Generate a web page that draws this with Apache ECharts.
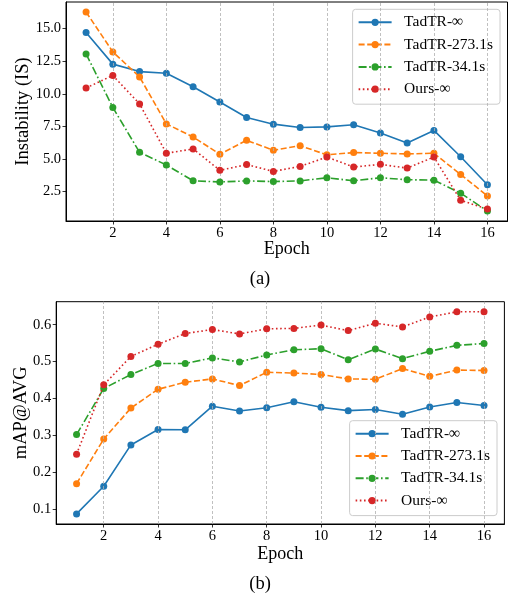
<!DOCTYPE html>
<html><head><meta charset="utf-8">
<script src="https://cdn.jsdelivr.net/npm/echarts@6/dist/echarts.min.js"></script>
<style>html,body{margin:0;padding:0;background:#fff}#c{width:508px;height:596px}</style>
</head><body><div id="c"></div>
<script>
// ---- data ----
const epochs = [1,2,3,4,5,6,7,8,9,10,11,12,13,14,15,16];
const seriesNames = ['TadTR-∞','TadTR-273.1s','TadTR-34.1s','Ours-∞'];

// (a) Instability (IS)
const isTadInf  = [14.69,12.27,11.70,11.57,10.54,9.37,8.18,7.67,7.41,7.46,7.62,7.00,6.23,7.19,5.17,3.02];
const isTad273  = [16.27,13.21,11.29,7.69,6.69,5.36,6.43,5.67,6.02,5.32,5.49,5.44,5.39,5.44,3.81,2.17];
const isTad34   = [13.05,8.95,5.51,4.54,3.33,3.24,3.32,3.27,3.32,3.56,3.33,3.56,3.41,3.38,2.38,1.01];
const isOursInf = [10.45,11.40,9.22,5.44,5.77,4.13,4.57,4.05,4.43,5.15,4.38,4.59,4.30,5.15,1.83,1.16];

// (b) mAP@AVG
const mapTadInf  = [0.087,0.162,0.274,0.316,0.315,0.379,0.366,0.375,0.391,0.376,0.367,0.370,0.357,0.377,0.389,0.381];
const mapTad273  = [0.169,0.290,0.374,0.425,0.444,0.453,0.435,0.471,0.469,0.465,0.453,0.452,0.481,0.460,0.477,0.476];
const mapTad34   = [0.302,0.427,0.465,0.495,0.495,0.510,0.499,0.518,0.532,0.535,0.505,0.534,0.508,0.528,0.544,0.549];
const mapOursInf = [0.249,0.437,0.514,0.547,0.576,0.587,0.575,0.589,0.590,0.599,0.584,0.604,0.594,0.621,0.635,0.635];

// tick labels
const xTicks = [2,4,6,8,10,12,14,16];
const isTicks = [2.5,5.0,7.5,10.0,12.5,15.0];
const mapTicks = [0.1,0.2,0.3,0.4,0.5,0.6];

// ---- style ----
const FONT = "'Liberation Serif', 'Times New Roman', serif";
const COLORS = ['#1f77b4','#ff7f0e','#2ca02c','#d62728'];
const DASHES = ['solid',[6,2.6],[8,2.6,1.6,2.6],[1.6,2.6]];
const TXT = '#000';

function extentPad(arrs){
  let lo = Infinity, hi = -Infinity;
  arrs.forEach(a => a.forEach(v => { lo = Math.min(lo, v); hi = Math.max(hi, v); }));
  const m = (hi - lo) * 0.05;
  return [lo - m, hi + m];
}
const xExt = extentPad([epochs]);
const isExt = extentPad([isTadInf,isTad273,isTad34,isOursInf]);
const mapExt = extentPad([mapTadInf,mapTad273,mapTad34,mapOursInf]);

const grids = [
  {left:66, right:0.5, top:2, height:219, outerBoundsMode:'none', show:true, borderColor:'#000', borderWidth:1, backgroundColor:'transparent'},
  {left:56.2, right:3.6, top:301.7, height:222.3, outerBoundsMode:'none', show:true, borderColor:'#000', borderWidth:1, backgroundColor:'transparent'}
];

function makeX(i){
  return {
    type:'value', gridIndex:i, min:xExt[0], max:xExt[1],
    name:'Epoch', nameLocation:'middle', nameGap: i===0 ? 19 : 21, nameMoveOverlap:false,
    nameTextStyle:{fontFamily:FONT, fontSize:18, color:TXT},
    axisLine:{show:true, onZero:false, lineStyle:{color:'#000', width:1}},
    axisTick:{show:true, length:3.5, inside:false, customValues:xTicks, lineStyle:{color:'#000', width:0.8}},
    axisLabel:{show:true, customValues:xTicks, fontFamily:FONT, fontSize:14.5, color:TXT, margin:5},
    splitLine:{show:false}
  };
}
function makeY(i){
  const ticks = i===0 ? isTicks : mapTicks;
  const ext = i===0 ? isExt : mapExt;
  return {
    type:'value', gridIndex:i, min:ext[0], max:ext[1],
    name: i===0 ? 'Instability (IS)' : 'mAP@AVG', nameLocation:'middle', nameRotate:90,
    nameGap: i===0 ? 33 : 26, nameMoveOverlap:false,
    nameTextStyle:{fontFamily:FONT, fontSize:18.5, color:TXT},
    axisLine:{show:true, onZero:false, lineStyle:{color:'#000', width:1}},
    axisTick:{show:true, length:3.5, inside:false, customValues:ticks, lineStyle:{color:'#000', width:0.8}},
    axisLabel:{show:true, customValues:ticks, fontFamily:FONT, fontSize:14.5, color:TXT, margin:5,
      formatter: v => v.toFixed(1)},
    splitLine:{show:false}
  };
}

const series = [];
[[isTadInf,isTad273,isTad34,isOursInf],[mapTadInf,mapTad273,mapTad34,mapOursInf]].forEach((group, gi) => {
  series.push({
    name:'_grid'+gi, type:'line', xAxisIndex:gi, yAxisIndex:gi, data:[], z:1, silent:true,
    markLine:{silent:true, symbol:'none', animation:false, label:{show:false},
      lineStyle:{color:'#b0b0b0', width:0.8, type:[3,2]},
      emphasis:{disabled:true},
      data: xTicks.map(v => ({xAxis:v}))}
  });
  group.forEach((vals, k) => {
    series.push({
      name: seriesNames[k], type:'line', xAxisIndex:gi, yAxisIndex:gi, z:3+k,
      data: epochs.map((e, j) => [e, vals[j]]),
      symbol:'circle', symbolSize:7, showSymbol:true,
      lineStyle:{color:COLORS[k], width:1.6, type:DASHES[k]},
      itemStyle:{color:COLORS[k]},
      emphasis:{disabled:true}, animation:false
    });
  });
});

const legendBase = {
  orient:'vertical', data:seriesNames, itemWidth:33, itemHeight:9, itemGap:6.3,
  padding:[5,7,7,5], backgroundColor:'rgba(255,255,255,0.8)', borderColor:'#cccccc', borderWidth:1, borderRadius:3,
  textStyle:{fontFamily:FONT, fontSize:15.5, color:TXT, lineHeight:16, padding:[0,0,0,7.5]},
  selectedMode:false
};

const option = {
  animation:false,
  backgroundColor:'#fff',
  textStyle:{fontFamily:FONT},
  grid: grids,
  xAxis:[makeX(0), makeX(1)],
  yAxis:[makeY(0), makeY(1)],
  legend:[
    Object.assign({}, legendBase, {right:8, top:9.3}),
    Object.assign({}, legendBase, {right:11, top:420.7})
  ],
  graphic:[
    {type:'text', x:260, y:279, style:{text:'(a)', font:'18.5px ' + FONT, fill:TXT, textAlign:'center', textVerticalAlign:'middle'}},
    {type:'text', x:260, y:584, style:{text:'(b)', font:'18.5px ' + FONT, fill:TXT, textAlign:'center', textVerticalAlign:'middle'}}
  ],
  series: series
};

const chart = echarts.init(document.getElementById('c'), null, {renderer:'canvas'});
chart.setOption(option);
</script>
</body></html>
